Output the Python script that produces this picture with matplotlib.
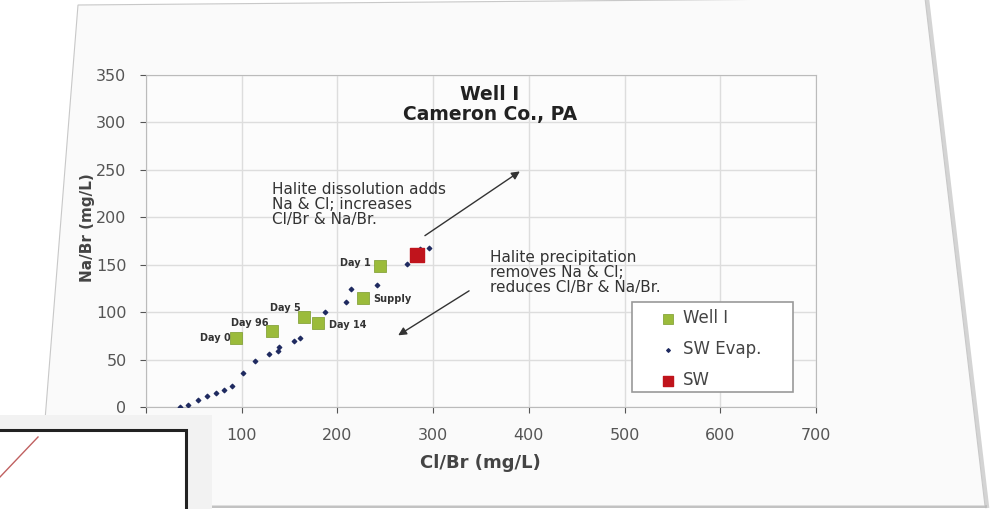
import matplotlib
matplotlib.use("Agg")
import matplotlib.pyplot as plt
from matplotlib.patches import Rectangle, Polygon
from matplotlib.lines import Line2D

plt.rcParams['font.family'] = ['DejaVu Sans']

# Well I samples
well_labels = ["Day 0", "Day 96", "Day 5", "Day 14", "Supply", "Day 1"]
well_clbr = [94, 132, 165, 180, 227, 245]
well_nabr = [73, 80, 95, 89, 115, 149]

# Seawater evaporation path
evap_clbr = [35, 44, 54, 64, 73, 81, 90, 101, 114, 129, 138, 139, 155, 161, 187, 209, 214, 241, 273, 286, 296]
evap_nabr = [0, 2, 7, 12, 15, 18, 22, 36, 48, 56, 59, 63, 70, 73, 100, 111, 124, 129, 151, 167, 168]

# Seawater
sw_clbr = [283]
sw_nabr = [160]

x_ticks = [0, 100, 200, 300, 400, 500, 600, 700]
x_ticklabels = ["", "100", "200", "300", "400", "500", "600", "700"]
y_ticks = [0, 50, 100, 150, 200, 250, 300, 350]

green = "#9BBB3B"
red = "#C0141C"
grid_c = "#DDDDDD"
tick_c = "#555555"

W, H = 994, 509
fig = plt.figure(figsize=(W / 100, H / 100), dpi=100)
fig.patch.set_facecolor("white")


def fp(x, y):
    return (x / W, 1 - y / H)


# the tilted slide the chart sits on
slide = [fp(78, 5), fp(925, -2), fp(985, 506), fp(200, 506), fp(45, 420)]
fig.patches.append(Polygon(slide, closed=True, transform=fig.transFigure,
                           facecolor="#FAFAFA", edgecolor="#C8C8C8", lw=0.8, zorder=0))
fig.lines.append(Line2D([925 / W + 0.002, 985 / W + 0.002], [1 + 2 / H, 1 - 506 / H],
                        transform=fig.transFigure, color="#D4D4D4", lw=3, zorder=0))
fig.lines.append(Line2D([200 / W, 985 / W], [1 - 506 / H, 1 - 506 / H],
                        transform=fig.transFigure, color="#BBBBBB", lw=2, zorder=0))

# decorative piece of another slide in the lower-left corner
fig.patches.append(Rectangle((0, 0), 212 / W, 1 - 415 / H, transform=fig.transFigure,
                             facecolor="#F2F2F2", edgecolor="none", zorder=1))
fig.patches.append(Rectangle((-0.01, -0.05), 186 / W + 0.01, 1 - 430 / H + 0.05,
                             transform=fig.transFigure, facecolor="white",
                             edgecolor="#222222", lw=2.2, zorder=1))
fig.lines.append(Line2D([0.0, 38 / W], [1 - 477 / H, 1 - 437 / H], transform=fig.transFigure,
                        color="#C06060", lw=1.0, zorder=2))

ax_l, ax_r, ax_t, ax_b = 146, 816, 75, 407
ax = fig.add_axes([ax_l / W, 1 - ax_b / H, (ax_r - ax_l) / W, (ax_b - ax_t) / H])
ax.set_zorder(3)
ax.set_facecolor("#FCFCFC")
ax.set_xlim(0, 700)
ax.set_ylim(0, 350)
ax.set_xticks(x_ticks)
ax.set_xticklabels(x_ticklabels)
ax.set_yticks(y_ticks)
ax.grid(True, color=grid_c, lw=1.0)
ax.set_axisbelow(True)
for s in ax.spines.values():
    s.set_color("#BBBBBB")
ax.tick_params(colors=tick_c, labelsize=11.5, length=4)
ax.tick_params(axis="x", pad=11)
ax.tick_params(axis="y", pad=10)
for lab in ax.get_xticklabels() + ax.get_yticklabels():
    lab.set_color(tick_c)

ax.set_xlabel("Cl/Br (mg/L)", fontsize=13, fontweight="bold", color="#444444")
ax.set_ylabel("Na/Br (mg/L)", fontsize=11, fontweight="bold", color="#444444")
ax.xaxis.set_label_coords((480 - ax_l) / (ax_r - ax_l), -(454 - ax_b) / (ax_b - ax_t))
ax.yaxis.set_label_coords(-(ax_l - 95) / (ax_r - ax_l), (ax_b - 228) / (ax_b - ax_t))

ax.scatter(evap_clbr, evap_nabr, s=5, marker="D", color="#1F2A60", label="SW Evap.", zorder=3)
ax.scatter(well_clbr, well_nabr, s=70, marker="s", color=green, edgecolor="#7A9A2A",
           lw=0.5, label="Well I", zorder=4)
ax.scatter(sw_clbr, sw_nabr, s=90, marker="s", color=red, label="SW", zorder=5)

offsets = {
    "Day 0": (-4, 0, "right", "center"),
    "Day 96": (-3, 6, "right", "center"),
    "Day 5": (-2, 6.5, "right", "center"),
    "Day 14": (8, -2, "left", "center"),
    "Supply": (7, -1, "left", "center"),
    "Day 1": (-7, 2, "right", "center"),
}
for lab, x, y in zip(well_labels, well_clbr, well_nabr):
    dx, dy, ha, va = offsets[lab]
    ax.annotate(lab, (x, y), xytext=(dx, dy), textcoords="offset points",
                ha=ha, va=va, fontsize=7, fontweight="bold", color="#333333")

ax.text(359, 319, "Well I\nCameron Co., PA", ha="center", va="center",
        fontsize=13.5, fontweight="bold", color="#222222", linespacing=1.05)

ax.annotate("", xy=(393, 250), xytext=(289, 179),
            arrowprops=dict(arrowstyle="-|>", color="#333333", lw=1.0, mutation_scale=12))
ax.annotate("", xy=(261, 74), xytext=(340, 124),
            arrowprops=dict(arrowstyle="-|>", color="#333333", lw=1.0, mutation_scale=12))

ax.text(132, 237, "Halite dissolution adds\nNa & Cl; increases\nCl/Br & Na/Br.",
        ha="left", va="top", fontsize=11, color="#333333", linespacing=1.0)
ax.text(359, 165.5, "Halite precipitation\nremoves Na & Cl;\nreduces Cl/Br & Na/Br.",
        ha="left", va="top", fontsize=11, color="#333333", linespacing=1.0)

# legend frame
pw, ph = ax_r - ax_l, ax_b - ax_t
ax.add_patch(Rectangle(((632 - ax_l) / pw, (ax_b - 392) / ph), (793 - 632) / pw, (392 - 302) / ph,
                       transform=ax.transAxes, facecolor="white", edgecolor="#999999",
                       lw=1.2, zorder=6))
handles, labels = ax.get_legend_handles_labels()
order = [labels.index(n) for n in ["Well I", "SW Evap.", "SW"]]
leg = ax.legend([handles[i] for i in order], [labels[i] for i in order],
                loc="upper left", bbox_to_anchor=((660 - ax_l) / pw, (ax_b - 309) / ph),
                frameon=False, fontsize=12, labelspacing=0.78, borderpad=0.0,
                borderaxespad=0.0, handletextpad=0.38, handlelength=1.0, markerscale=0.8)
leg.set_zorder(7)
for t in leg.get_texts():
    t.set_color("#444444")

fig.savefig("out.png", dpi=100, facecolor="white")
